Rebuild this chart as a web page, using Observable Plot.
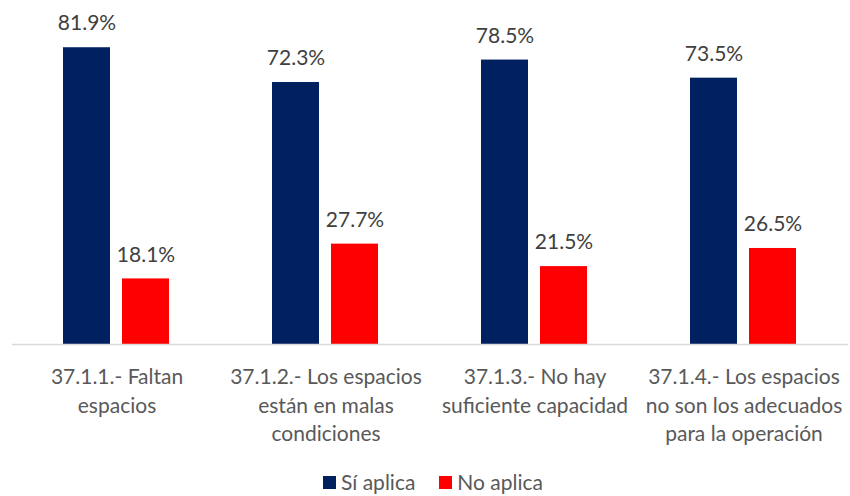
<!DOCTYPE html>
<html>
<head>
<meta charset="utf-8">
<script src="https://cdn.jsdelivr.net/npm/d3@7"></script>
<script src="https://cdn.jsdelivr.net/npm/@observablehq/plot@0.6"></script>
<style>
  html, body { margin: 0; padding: 0; background: #fff; }
  #chart { width: 850px; }
  .legend { display: flex; justify-content: center; align-items: center; height: 24px; margin-top: 0;
    font-family: Lato, "Open Sans", sans-serif; font-size: 21px; line-height: 24px; color: #595959; padding-left: 16px; }
  .legend .sw { display: inline-block; width: 13px; height: 13px; margin-right: 5px; }
  .legend .item { display: flex; align-items: center; margin: 0 12px; }
</style>
</head>
<body>
<div id="chart"></div>
<script>
const categories = [
  "37.1.1.- Faltan\nespacios",
  "37.1.2.- Los espacios\nestán en malas\ncondiciones",
  "37.1.3.- No hay\nsuficiente capacidad",
  "37.1.4.- Los espacios\nno son los adecuados\npara la operación"
];
const seriesNames = ["Sí aplica", "No aplica"];
const siAplica = [81.9, 72.3, 78.5, 73.5];
const noAplica = [18.1, 27.7, 21.5, 26.5];
const seriesColors = ["#002060", "#FF0000"];

const rows = [];
categories.forEach((c, i) => {
  rows.push({cat: c, serie: seriesNames[0], value: siAplica[i]});
  rows.push({cat: c, serie: seriesNames[1], value: noAplica[i]});
});

const chart = Plot.plot({
  width: 850,
  height: 470,
  marginLeft: 11,
  marginRight: 2,
  marginTop: 36,
  marginBottom: 126,
  style: {fontFamily: "Lato, 'Open Sans', sans-serif", background: "#fff"},
  fx: {domain: categories, padding: 0, axis: null},
  x: {domain: seriesNames, paddingInner: 0.2, paddingOuter: 0.87, axis: null},
  y: {domain: [0, 85], axis: null},
  color: {domain: seriesNames, range: seriesColors},
  marks: [
    Plot.barY(rows, {fx: "cat", x: "serie", y: "value", fill: "serie"}),
    Plot.ruleY([0], {stroke: "#d9d9d9", strokeWidth: 1.3}),
    Plot.text(rows, {fx: "cat", x: "serie", y: "value", text: d => d.value.toFixed(1) + "%",
      dy: -24, fontSize: 21, fill: "#404040"}),
    Plot.axisFx({anchor: "bottom", tickSize: 0, tickPadding: 20, fontSize: 21,
      lineHeight: 1.34, color: "#595959", label: null})
  ]
});
document.getElementById("chart").appendChild(chart);

const legend = document.createElement("div");
legend.className = "legend";
seriesNames.forEach((s, i) => {
  const it = document.createElement("span");
  it.className = "item";
  const sw = document.createElement("span");
  sw.className = "sw";
  sw.style.background = seriesColors[i];
  it.appendChild(sw);
  it.appendChild(document.createTextNode(s));
  legend.appendChild(it);
});
document.getElementById("chart").appendChild(legend);
</script>
</body>
</html>
